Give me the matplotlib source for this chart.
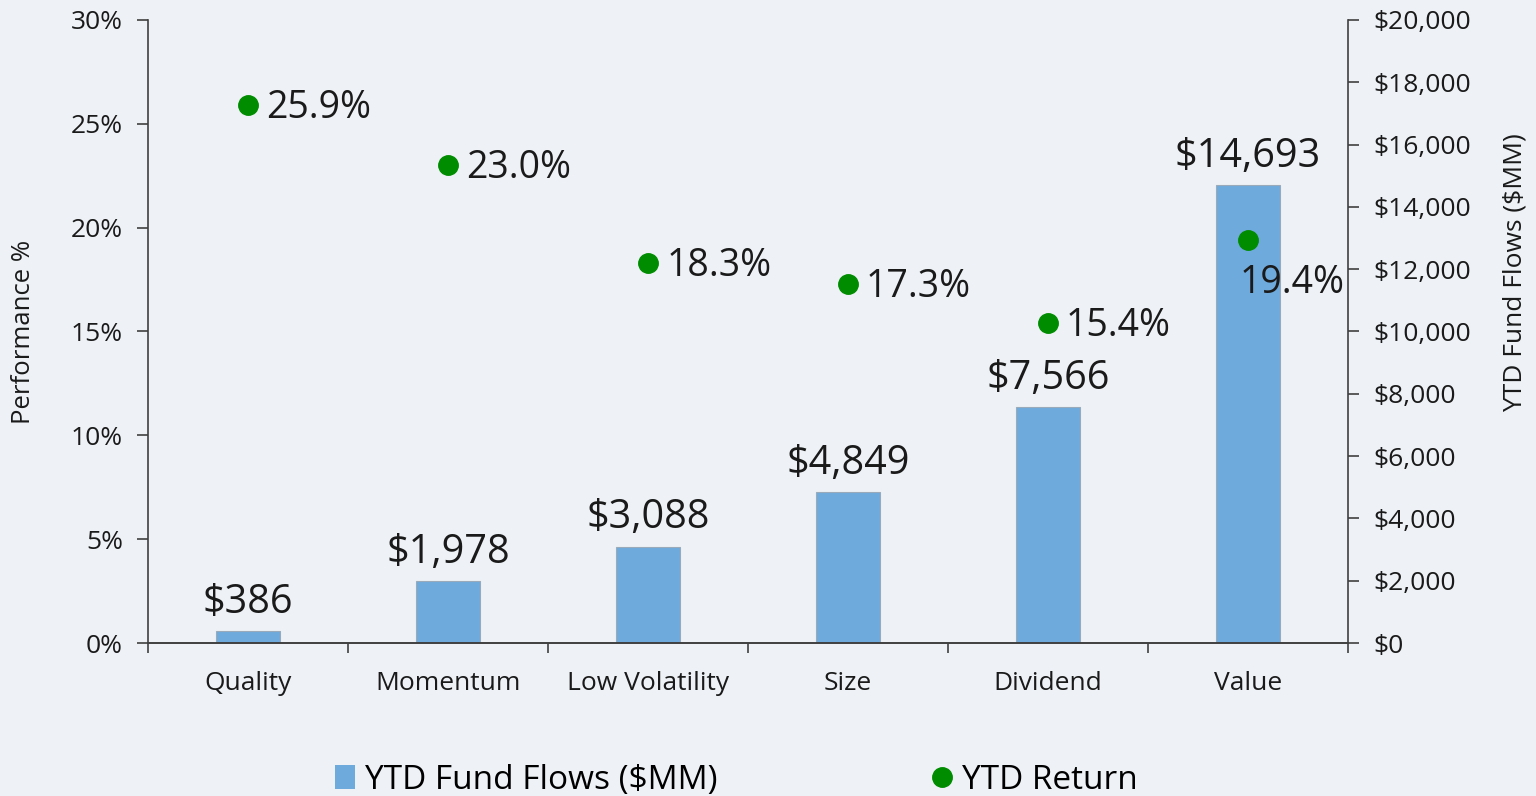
import numpy as np
import matplotlib
matplotlib.use("Agg")
import matplotlib.pyplot as plt
from matplotlib.patches import Patch
from matplotlib.lines import Line2D
from matplotlib.ticker import FuncFormatter, MultipleLocator

plt.rcParams['font.family'] = ['Open Sans', 'DejaVu Sans']

categories = ["Quality", "Momentum", "Low Volatility", "Size", "Dividend", "Value"]
fund_flows = [386, 1978, 3088, 4849, 7566, 14693]   # $MM
ytd_return = [25.9, 23.0, 18.3, 17.3, 15.4, 19.4]    # %

bg = "#eef2f6"
bar_col = "#6eaadc"
dot_col = "#008c00"
ink = "#1a1a1a"

fig = plt.figure(figsize=(15.36, 7.96), dpi=100, facecolor=bg)
ax = fig.add_axes([0.0964, 0.1922, 0.7812, 0.7827])
ax2 = ax.twinx()
ax.set_zorder(ax2.get_zorder() + 1)
ax.patch.set_visible(False)
ax2.set_facecolor(bg)

x = np.arange(len(categories))

# bars on the right ($) axis
bars = ax2.bar(x, fund_flows, width=0.32, color=bar_col, edgecolor="#9aaabb", linewidth=0.8)
for xi, v in zip(x, fund_flows):
    ax2.annotate(f"${v:,}", (xi, v), xytext=(0, 6), textcoords="offset points",
                 ha="center", va="bottom", fontsize=28.5, color=ink)

# dots on the left (%) axis
ax.plot(x, ytd_return, "o", color=dot_col, markersize=14, zorder=5)
for i, (xi, v) in enumerate(zip(x, ytd_return)):
    if i == len(categories) - 1:
        ax.annotate(f"{v:.1f}%", (xi, v), xytext=(-6, -31), textcoords="offset points",
                    ha="left", va="center", fontsize=27, color=ink)
    else:
        ax.annotate(f"{v:.1f}%", (xi, v), xytext=(13, -2), textcoords="offset points",
                    ha="left", va="center", fontsize=27, color=ink)

ax.set_xlim(-0.5, len(categories) - 0.5)
ax.set_ylim(0, 30)
ax2.set_ylim(0, 20000)

ax.yaxis.set_major_locator(MultipleLocator(5))
ax.yaxis.set_major_formatter(FuncFormatter(lambda v, p: f"{v:.0f}%"))
ax2.yaxis.set_major_locator(MultipleLocator(2000))
ax2.yaxis.set_major_formatter(FuncFormatter(lambda v, p: f"${v:,.0f}"))

ax.set_xticks(x)
ax.set_xticklabels(categories, fontsize=19, color=ink)
ax.set_xticks(np.arange(-0.5, len(categories)), minor=True)
ax.tick_params(axis="x", which="major", length=0, pad=20)
ax.tick_params(axis="x", which="minor", length=7, width=1.2, color="#404040", direction="out")
ax.tick_params(axis="y", labelsize=19, labelcolor=ink, length=8, width=1.2, color="#404040", pad=10)
ax2.tick_params(axis="y", labelsize=19, labelcolor=ink, length=8, width=1.2, color="#404040", pad=10)

for a in (ax, ax2):
    a.spines["top"].set_visible(False)
    for s in ("left", "right", "bottom"):
        a.spines[s].set_color("#404040")
        a.spines[s].set_linewidth(1.2)
ax.spines["right"].set_visible(False)
ax2.spines["left"].set_visible(False)

ax.set_ylabel("Performance %", fontsize=18.5, color=ink)
ax2.set_ylabel("YTD Fund Flows ($MM)", fontsize=19, color=ink)
ax.yaxis.set_label_coords(-0.093, 0.50)
ax2.yaxis.set_label_coords(1.129, 0.595)

handles = [Patch(facecolor=bar_col, edgecolor="none", label="YTD Fund Flows ($MM)"),
           Line2D([], [], marker="o", linestyle="none", color=dot_col, markersize=14, label="YTD Return")]
fig.legend(handles=handles, loc="center", bbox_to_anchor=(0.4795, 0.02), ncol=2, frameon=False,
           fontsize=24, handlelength=0.6, handletextpad=0.3, columnspacing=6.45)

fig.savefig("out.png", dpi=100, facecolor=bg)
